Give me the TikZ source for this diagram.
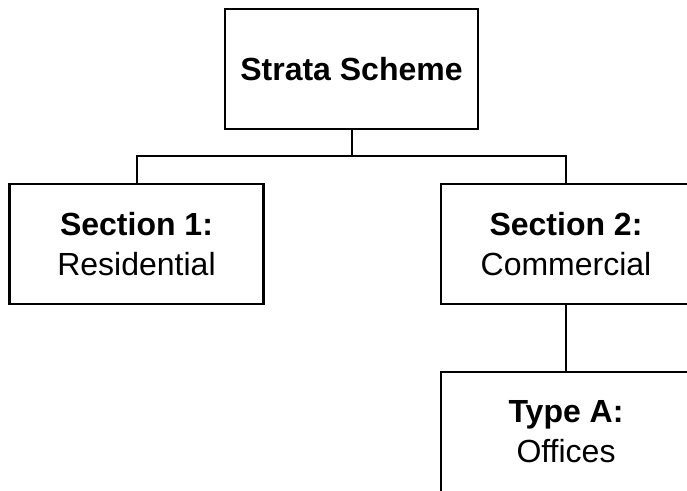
\documentclass[tikz,border=0pt]{standalone}
\usepackage{fontspec}
\setmainfont[Ligatures=NoCommon]{Liberation Sans}
\begin{document}
\begin{tikzpicture}[x=1pt,y=-1pt,
  orgbox/.style={draw=black, line width=2.4pt, rectangle, fill=white,
    minimum height=120pt, align=center, inner sep=0pt,
    font=\fontsize{32}{40}\selectfont},
  link/.style={draw=black, line width=2pt}]
  \useasboundingbox (0,0) rectangle (687,490);
  \clip (0,0) rectangle (687,490);
  \fill[white] (0,0) rectangle (687,490);

  \node[orgbox, minimum width=253pt] (top) at (351.5,69) {\textbf{Strata Scheme}};
  \node[orgbox, minimum width=254pt] (sec1) at (136.5,244) {\textbf{Section 1:}\\Residential};
  \node[orgbox, minimum width=250pt] (sec2) at (566,244) {\textbf{Section 2:}\\Commercial};
  \node[orgbox, minimum width=250pt] (typeA) at (566,432) {\textbf{Type A:}\\Offices};

  \draw[link] (top.south) -- ++(0,26) coordinate (j);
  \draw[link] (sec1.north) |- (j) -| (sec2.north);
  \draw[link] (sec2.south) -- (typeA.north);
\end{tikzpicture}
\end{document}
